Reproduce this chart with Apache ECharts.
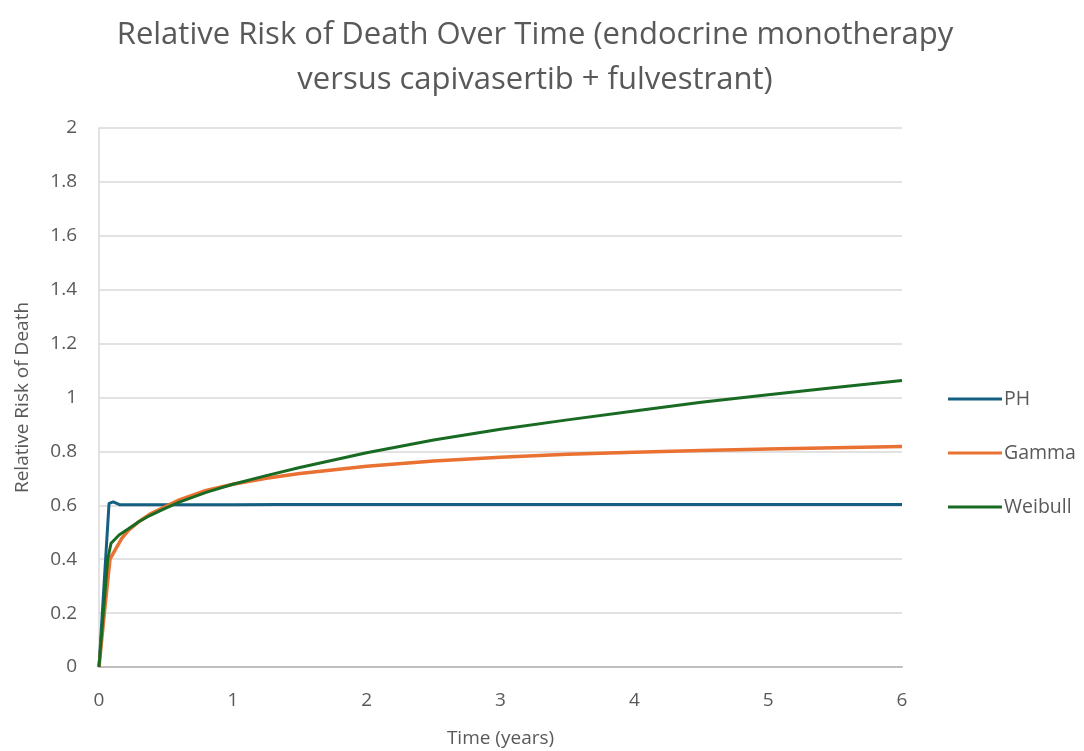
<!DOCTYPE html>
<html>
<head>
<meta charset="utf-8">
<script src="https://cdn.jsdelivr.net/npm/echarts@6/dist/echarts.min.js"></script>
<style>
html,body{margin:0;padding:0;background:#fff;}
#chart{width:1084px;height:751px;}
</style>
</head>
<body>
<div id="chart"></div>
<script>
// Time (years) and relative risk values
var phTime      = [0, 0.075, 0.107, 0.157, 0.3, 1, 1.33, 2, 3, 4, 5, 6];
var phValues    = [0, 0.607, 0.613, 0.602, 0.602, 0.602, 0.603, 0.603, 0.603, 0.603, 0.603, 0.603];

var gammaTime   = [0, 0.04, 0.082, 0.12, 0.17, 0.22, 0.3, 0.38, 0.47, 0.6, 0.8, 1, 1.25, 1.5, 2, 2.5, 3, 3.5, 4, 4.5, 5, 5.5, 6];
var gammaValues = [0, 0.2, 0.4, 0.434, 0.477, 0.507, 0.54, 0.567, 0.589, 0.62, 0.655, 0.678, 0.70, 0.718, 0.745, 0.764, 0.778, 0.789, 0.797, 0.803, 0.809, 0.814, 0.818];

var weibullTime   = [0, 0.032, 0.065, 0.09, 0.15, 0.22, 0.3, 0.38, 0.47, 0.6, 0.8, 1, 1.25, 1.5, 2, 2.5, 3, 3.5, 4, 4.5, 5, 5.5, 6];
var weibullValues = [0, 0.2, 0.4, 0.459, 0.49, 0.513, 0.54, 0.562, 0.583, 0.612, 0.648, 0.678, 0.71, 0.74, 0.795, 0.842, 0.882, 0.917, 0.95, 0.982, 1.01, 1.037, 1.063];

var yTicks = { min: 0, max: 2, interval: 0.2 };
var xTicks = { min: 0, max: 6, interval: 1 };

function pairs(t, v) { return t.map(function (x, i) { return [x, v[i]]; }); }

var FONT = '"Open Sans", Roboto, sans-serif';
var chart = echarts.init(document.getElementById('chart'));
chart.setOption({
  animation: false,
  backgroundColor: '#ffffff',
  title: {
    text: 'Relative Risk of Death Over Time (endocrine monotherapy\nversus capivasertib + fulvestrant)',
    left: 530,
    top: 8,
    textAlign: 'center',
    textStyle: { fontFamily: FONT, fontSize: 31, fontWeight: 'normal', color: '#595959', lineHeight: 45, align: 'center' }
  },
  legend: {
    orient: 'vertical',
    left: 948,
    top: 388,
    padding: 0,
    itemWidth: 54,
    itemHeight: 22,
    itemGap: 32,
    icon: 'path://M0,0 L54,0 L54,3 L0,3 Z',
    textStyle: { fontFamily: FONT, fontSize: 19.5, color: '#595959', lineHeight: 22, padding: [0, 0, 0, -3] },
    data: ['PH', 'Gamma', 'Weibull']
  },
  grid: { left: 99, right: 182, top: 128, bottom: 84, containLabel: false, outerBoundsMode: 'none' },
  xAxis: {
    type: 'value',
    min: xTicks.min, max: xTicks.max, interval: xTicks.interval,
    name: 'Time (years)',
    nameLocation: 'middle',
    nameGap: 62,
    nameTextStyle: { fontFamily: FONT, fontSize: 19, color: '#595959' },
    axisLine: { show: true, lineStyle: { color: '#bfbfbf', width: 2 } },
    axisTick: { show: false },
    splitLine: { show: false },
    axisLabel: { fontFamily: FONT, fontSize: 19, color: '#595959', margin: 24 }
  },
  yAxis: {
    type: 'value',
    min: yTicks.min, max: yTicks.max, interval: yTicks.interval,
    name: 'Relative Risk of Death',
    nameLocation: 'middle',
    nameGap: 67,
    nameTextStyle: { fontFamily: FONT, fontSize: 19, color: '#595959' },
    axisLine: { show: true, lineStyle: { color: '#d9d9d9', width: 1.5 } },
    axisTick: { show: false },
    splitLine: { show: true, lineStyle: { color: '#d9d9d9', width: 1.5 } },
    axisLabel: { fontFamily: FONT, fontSize: 19, color: '#595959', margin: 22,
      formatter: function (v) { return String(+v.toFixed(1)); } }
  },
  series: [
    { name: 'PH', type: 'line', data: pairs(phTime, phValues), showSymbol: false, smooth: false,
      lineStyle: { color: '#156082', width: 3 }, itemStyle: { color: '#156082' } },
    { name: 'Gamma', type: 'line', data: pairs(gammaTime, gammaValues), showSymbol: false, smooth: false,
      lineStyle: { color: '#E97132', width: 3.5 }, itemStyle: { color: '#E97132' } },
    { name: 'Weibull', type: 'line', data: pairs(weibullTime, weibullValues), showSymbol: false, smooth: false,
      lineStyle: { color: '#196B24', width: 3 }, itemStyle: { color: '#196B24' } }
  ]
});
</script>
</body>
</html>
